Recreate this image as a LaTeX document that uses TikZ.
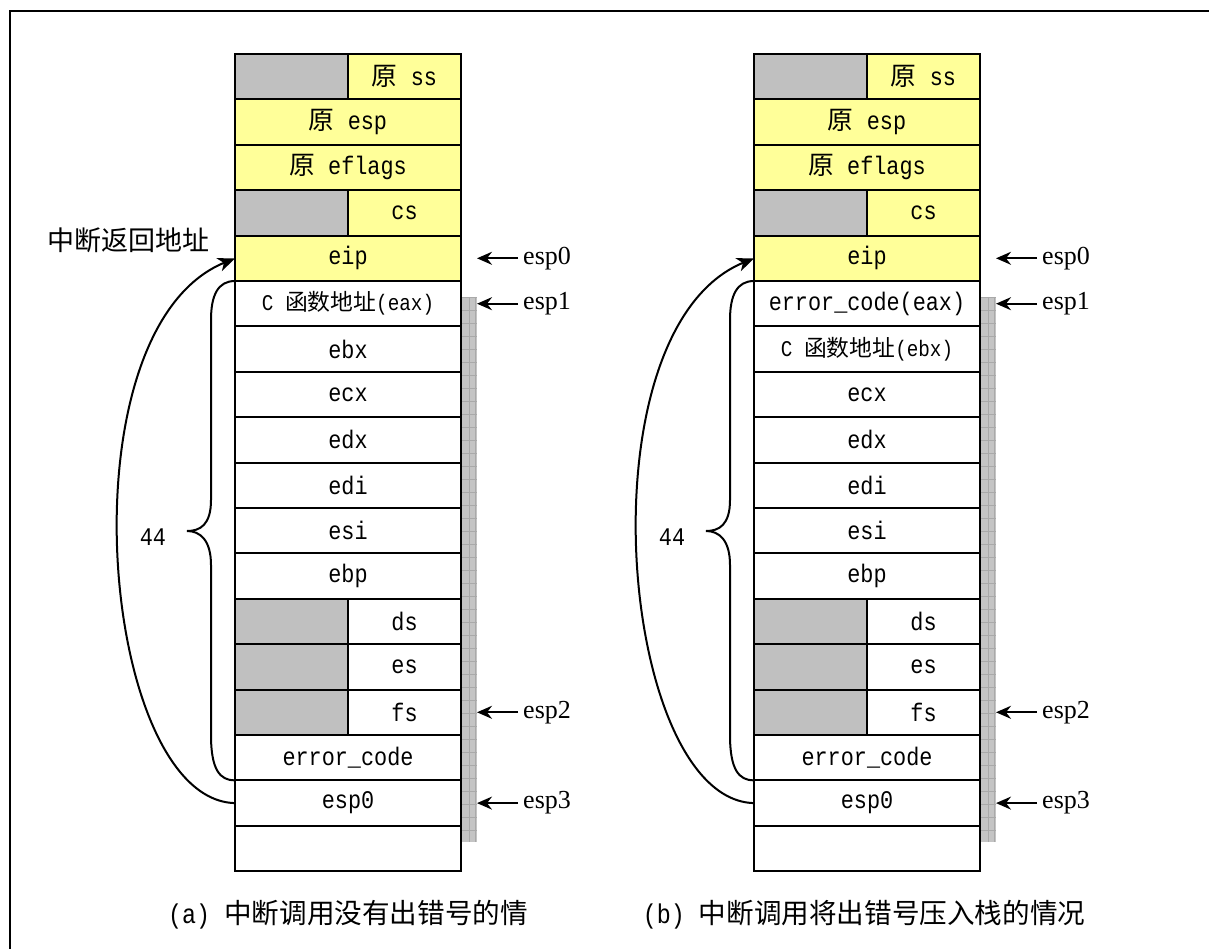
\documentclass[tikz,border=0pt]{standalone}
\usepackage{fontspec}
\setmainfont{Liberation Mono}[Scale=1.18, FakeStretch=0.86]
\newfontfamily\cjkf[Scale=1.2]{Noto Sans CJK SC}
\newfontfamily\tmsf{Liberation Serif}
\newcommand\zh[1]{{\cjkf #1}}
\newcommand\boxfont{\fontsize{21.5}{24}\selectfont}
\newcommand\smallboxfont{\fontsize{19}{22}\selectfont}
\usetikzlibrary{arrows.meta}
\definecolor{yelc}{HTML}{FFFF99}
\definecolor{gryc}{HTML}{C0C0C0}
\definecolor{stripc}{HTML}{C4C4C4}
\definecolor{gridc}{HTML}{A9A9A9}
\tikzset{
  cell/.style={draw, line width=2.1pt, minimum width=226pt, minimum height=45.4pt, inner sep=0pt, outer sep=0pt, anchor=north west, font=\boxfont},
  half/.style={cell, minimum width=113pt},
  yel/.style={fill=yelc},
  gry/.style={fill=gryc},
  wht/.style={fill=white},
  lab/.style={font=\tmsf\fontsize{26}{28}\selectfont, anchor=west, inner sep=5pt},
  ptr/.style={-{Stealth[length=15pt,width=13pt,inset=5pt]}, line width=2pt},
  ret/.style={-{Stealth[length=17pt,width=14pt,inset=5pt]}, line width=2pt},
  bracestyle/.style={line width=2pt},
  gridline/.style={draw=gridc, line width=0.5pt},
}
\newcommand\drawstack[4]{%
  \fill[stripc] (#2+226,297) rectangle (#2+242,842);
  \foreach \k in {0,...,41} \draw[gridline] (#2+226,297+13*\k) -- (#2+242,297+13*\k);
  \draw[gridline] (#2+234,297) -- (#2+234,842);
  \draw[gridline] (#2+240,297) -- (#2+240,842);
  \node[half,gry] (#1g0) at (#2,54) {};
  \node[half,yel] (#1r0) at (#2+113,54) {\zh{原} ss};
  \node[cell,yel] (#1r1) at (#2,99.4) {\zh{原} esp};
  \node[cell,yel] (#1r2) at (#2,144.8) {\zh{原} eflags};
  \node[half,gry] (#1g3) at (#2,190.2) {};
  \node[half,yel] (#1r3) at (#2+113,190.2) {cs};
  \node[cell,yel] (#1r4) at (#2,235.6) {eip};
  \node[cell,wht] (#1r5) at (#2,281) {#3};
  \node[cell,wht] (#1r6) at (#2,326.4) {#4};
  \foreach \i/\t in {7/ecx,8/edx,9/edi,10/esi,11/ebp}
    \node[cell,wht] (#1r\i) at (#2,54+45.4*\i) {\t};
  \foreach \i/\t in {12/ds,13/es,14/fs}{
    \node[half,gry] (#1g\i) at (#2,54+45.4*\i) {};
    \node[half,wht] (#1r\i) at (#2+113,54+45.4*\i) {\t};
  }
  \node[cell,wht] (#1r15) at (#2,735) {error\_code};
  \node[cell,wht] (#1r16) at (#2,780.4) {esp0};
  \node[cell,wht] (#1r17) at (#2,825.8) {};
  % pointers
  \foreach \r/\n in {4/esp0,5/esp1,14/esp2,16/esp3}{
    \coordinate (#1t\r) at ([xshift=16pt]#1r\r.east);
    \node[lab] (#1l\r) at ([xshift=57pt]#1r\r.east) {\n};
    \draw[ptr] (#1l\r.west) -- (#1t\r);
  }
  % brace
  \draw[bracestyle] (#1r4.south west) .. controls (#2-17,281) and (#2-24,295) .. (#2-24,320)
     -- (#2-24,500) .. controls (#2-24,525) and (#2-35,531) .. (#2-48,531)
     .. controls (#2-35,531) and (#2-24,540) .. (#2-24,565)
     -- (#2-24,735) .. controls (#2-24,770) and (#2-15,780.4) .. (#1r15.south west);
  \node[font=\boxfont] (#1n44) at (#2-82,537) {44};
  % return arrow
  \draw[ret] (#1r16.west) .. controls (#2-135,800) and (#2-175,330) .. (#1r4.west);
}
\begin{document}
\begin{tikzpicture}[x=1pt,y=-1pt]
  \useasboundingbox (0,0) rectangle (1209,949);
  \fill[white] (0,0) rectangle (1209,949);
  \draw[line width=2.6pt] (10,949) -- (10,11) -- (1209,11);
  \drawstack{a}{235}{\smallboxfont C \zh{函数地址}(eax)}{ebx}
  \drawstack{b}{754}{error\_code(eax)}{\smallboxfont C \zh{函数地址}(ebx)}
  \node[font=\fontsize{22.5}{26}\selectfont] (retlbl) at (128,240) {\zh{中断返回地址}};
  \node[font=\fontsize{23}{26}\selectfont] (capa) at (348,915) {(a) \zh{中断调用没有出错号的情}};
  \node[font=\fontsize{23}{26}\selectfont] (capb) at (864,915) {(b) \zh{中断调用将出错号压入栈的情况}};
\end{tikzpicture}
\end{document}
